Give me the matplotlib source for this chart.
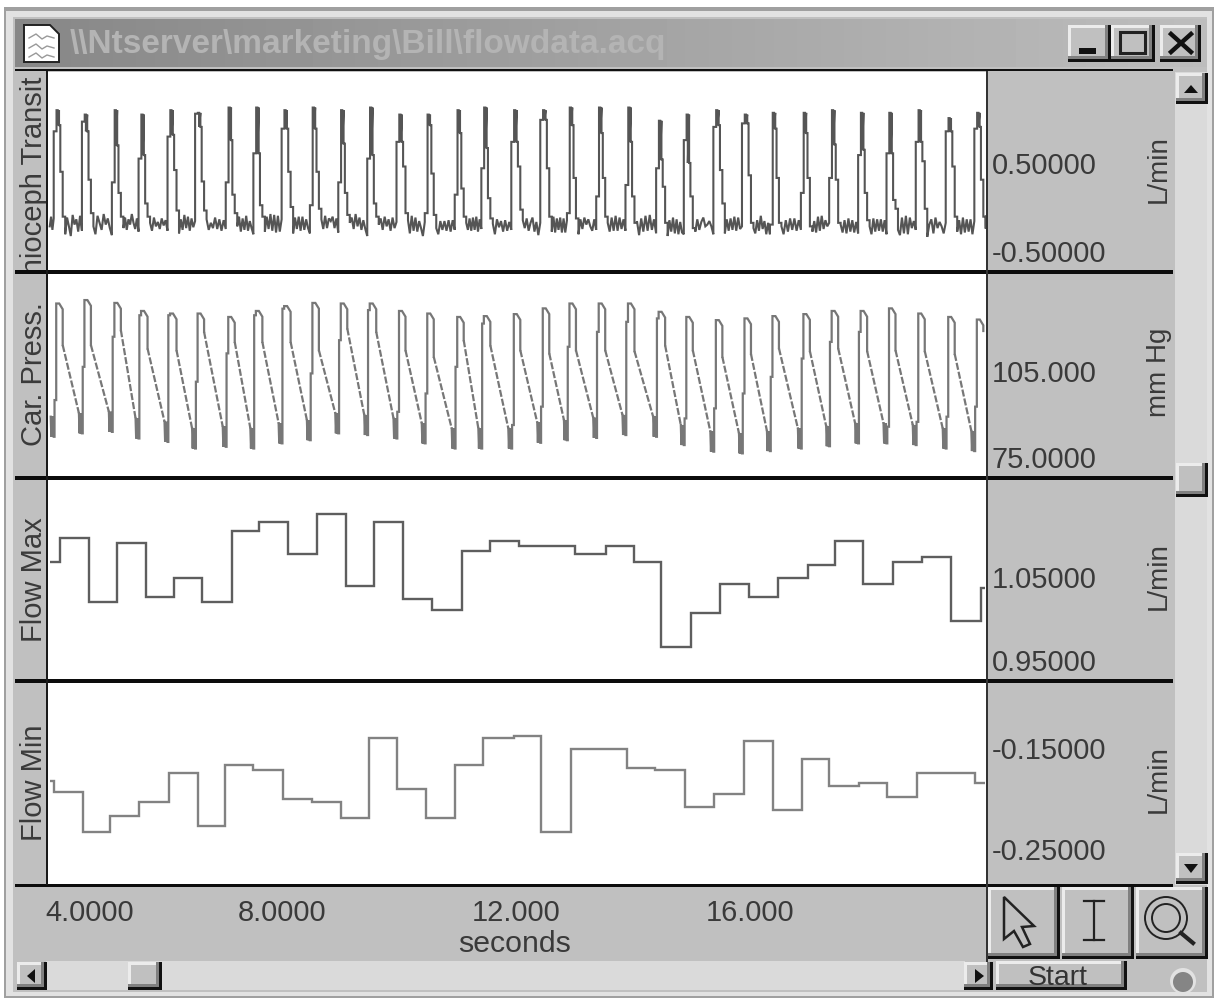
import matplotlib
matplotlib.use("Agg")
import matplotlib.pyplot as plt
import numpy as np
from matplotlib.patches import Rectangle, Polygon, Circle
from matplotlib.transforms import ScaledTranslation

plt.rcParams['font.family'] = ['Liberation Sans', 'DejaVu Sans']

# ---------------- data -----------------
title = r"\\Ntserver\marketing\Bill\flowdata.acq"
channel_names = ["Thioceph Transit", "Car. Press.", "Flow Max", "Flow Min"]
channel_units = ["L/min", "mm Hg", "L/min", "L/min"]
ticks_transit = [0.5, -0.5]
ticks_press = [105, 75]
ticks_fmax = [1.05, 0.95]
ticks_fmin = [-0.15, -0.25]
ticklabels_transit = ["0.50000", "-0.50000"]
ticklabels_press = ["105.000", "75.0000"]
ticklabels_fmax = ["1.05000", "0.95000"]
ticklabels_fmin = ["-0.15000", "-0.25000"]
time_ticks = [4, 8, 12, 16]
time_ticklabels = ["4.0000", "8.0000", "12.000", "16.000"]
time_label = "seconds"

beat_t = [4.166, 4.648, 5.160, 5.616, 6.111, 6.582, 7.106, 7.578, 8.061, 8.544, 9.029,
          9.524, 10.024, 10.507, 11.019, 11.474, 11.986, 12.481, 12.937, 13.437, 13.937,
          14.461, 14.934, 15.439, 15.928, 16.406, 16.935, 17.418, 17.913, 18.398, 18.898,
          19.410, 19.899]

# Transit-time flow, one value per beat (L/min)
tr_peak = [1.10, 1.05, 1.10, 1.05, 1.10, 1.07, 1.13, 1.13, 1.10, 1.13, 1.10, 1.13, 1.05, 1.05,
           1.10, 1.13, 1.10, 1.10, 1.13, 1.13, 1.13, 0.98, 1.05, 1.10, 1.05, 1.07, 1.07, 1.10,
           1.07, 1.07, 1.10, 1.01, 1.07]
tr_rise = [0.86, 0.97, 0.28, 0.55, 0.80, 1.06, 0.28, 0.61, 0.89, 0.02, 0.28, 0.55, 0.74, -0.07,
           0.14, 0.44, 0.74, 0.99, -0.07, 0.12, 0.25, 0.44, 0.76, 0.91, 0.95, -0.20, 0.16, 0.33,
           0.59, 0.61, 0.74, 0.86, 0.89]
tr_shoulder = [0.93, 0.86, 0.70, 0.59, 0.82, 0.91, 0.76, 0.61, 0.89, 0.89, 0.72, 0.59, 0.74, 0.93,
               0.84, 0.67, 0.74, 0.99, 0.93, 0.84, 0.74, 0.54, 0.50, 0.93, 0.95, 0.89, 0.84, 0.71,
               0.65, 0.61, 0.74, 0.86, 0.91]
tr_d1 = [0.40, 0.31, 0.16, 0.04, 0.42, 0.29, 0.14, 0.02, 0.40, 0.40, 0.16, 0.04, 0.46, 0.38, 0.21,
         0.10, 0.46, 0.44, 0.33, 0.33, 0.12, 0.23, 0.12, 0.42, 0.36, 0.33, 0.33, 0.31, 0.16, 0.08,
         0.52, 0.46, 0.31]
tr_d2 = [-0.11, -0.07, -0.11, -0.11, -0.04, -0.04, -0.07, -0.11, 0.00, -0.02, -0.09, -0.11, -0.07,
         -0.09, -0.11, -0.13, -0.03, -0.11, -0.13, -0.11, -0.18, -0.18, -0.24, 0.04, -0.18, -0.18,
         -0.22, -0.18, -0.15, -0.02, -0.02, -0.11, -0.11]
tr_floor = [
    [-0.31, -0.12, -0.22, -0.33, -0.09, -0.20, -0.14, -0.28, -0.10, -0.27],
    [-0.22, -0.31, -0.10, -0.18, -0.26, -0.08, -0.20, -0.13, -0.24, -0.32],
    [-0.24, -0.12, -0.26, -0.14, -0.20, -0.08, -0.18, -0.25, -0.13, -0.28],
    [-0.18, -0.27, -0.12, -0.22, -0.17, -0.25, -0.13, -0.21, -0.15, -0.27],
    [-0.30, -0.14, -0.26, -0.09, -0.24, -0.11, -0.27, -0.13, -0.23, -0.16],
    [-0.14, -0.26, -0.18, -0.24, -0.12, -0.25, -0.14, -0.27, -0.15, -0.25],
    [-0.22, -0.11, -0.28, -0.13, -0.26, -0.10, -0.27, -0.16, -0.24, -0.31],
    [-0.28, -0.11, -0.25, -0.08, -0.27, -0.09, -0.29, -0.10, -0.28, -0.14],
    [-0.30, -0.12, -0.25, -0.11, -0.27, -0.11, -0.26, -0.14, -0.24, -0.30],
    [-0.14, -0.25, -0.10, -0.24, -0.13, -0.16, -0.11, -0.24, -0.13, -0.29],
    [-0.18, -0.12, -0.25, -0.08, -0.22, -0.12, -0.26, -0.15, -0.25, -0.33],
    [-0.20, -0.13, -0.26, -0.11, -0.22, -0.14, -0.27, -0.12, -0.24, -0.17],
    [-0.15, -0.30, -0.10, -0.27, -0.12, -0.28, -0.16, -0.24, -0.33, -0.17],
    [-0.24, -0.31, -0.16, -0.26, -0.16, -0.27, -0.15, -0.28, -0.15, -0.26],
    [-0.18, -0.26, -0.13, -0.27, -0.12, -0.26, -0.11, -0.28, -0.14, -0.25],
    [-0.19, -0.31, -0.14, -0.23, -0.16, -0.28, -0.15, -0.27, -0.17, -0.26],
    [-0.15, -0.24, -0.13, -0.27, -0.18, -0.12, -0.28, -0.17, -0.32, -0.18],
    [-0.28, -0.11, -0.29, -0.13, -0.26, -0.12, -0.29, -0.13, -0.29, -0.15],
    [-0.31, -0.14, -0.25, -0.12, -0.20, -0.14, -0.22, -0.27, -0.14, -0.26],
    [-0.18, -0.28, -0.12, -0.27, -0.10, -0.27, -0.12, -0.25, -0.14, -0.27],
    [-0.16, -0.32, -0.13, -0.28, -0.10, -0.27, -0.09, -0.26, -0.14, -0.30],
    [-0.33, -0.15, -0.28, -0.12, -0.30, -0.14, -0.31, -0.17, -0.29, -0.31],
    [-0.28, -0.14, -0.26, -0.17, -0.12, -0.22, -0.20, -0.16, -0.22, -0.31],
    [-0.30, -0.14, -0.27, -0.13, -0.26, -0.11, -0.27, -0.12, -0.25, -0.22],
    [-0.24, -0.30, -0.15, -0.27, -0.10, -0.25, -0.16, -0.31, -0.18, -0.31],
    [-0.22, -0.31, -0.15, -0.28, -0.13, -0.26, -0.13, -0.27, -0.15, -0.26],
    [-0.28, -0.16, -0.29, -0.11, -0.27, -0.10, -0.25, -0.15, -0.22, -0.18],
    [-0.20, -0.29, -0.15, -0.30, -0.13, -0.28, -0.15, -0.29, -0.17, -0.30],
    [-0.22, -0.31, -0.13, -0.28, -0.14, -0.27, -0.14, -0.28, -0.15, -0.31],
    [-0.26, -0.32, -0.12, -0.30, -0.10, -0.31, -0.12, -0.24, -0.16, -0.26],
    [-0.34, -0.20, -0.14, -0.30, -0.12, -0.24, -0.17, -0.22, -0.30, -0.18],
    [-0.28, -0.15, -0.31, -0.12, -0.29, -0.14, -0.28, -0.14, -0.31, -0.16],
    [-0.18, -0.25, -0.10, -0.20, -0.12, -0.24, -0.15, -0.22, -0.12, -0.20],
]
tr_floor_start = [-0.22, -0.11, -0.26, -0.13]

# Carotid pressure, one value per beat (mm Hg)
cp_trough = [82.1, 83.3, 83.8, 81.5, 80.3, 78.0, 78.6, 78.0, 79.8, 80.9, 83.3, 82.7, 81.5, 79.8, 78.0,
             78.0, 78.0, 80.0, 80.9, 81.7, 82.7, 82.1, 79.2, 76.9, 76.3, 77.1, 78.0, 78.8, 79.8, 79.8,
             79.2, 78.0, 77.1]
cp_step = [94.9, 106.5, 117.0, 124.5, 124.5, 101.3, 111.2, 124.5, 126.8, 104.2, 115.8, 126.3, 90.8, 97.2,
           106.5, 121.6, 86.2, 92.6, 113.5, 118.7, 122.2, 123.4, 88.5, 92.0, 97.2, 103.0, 109.4, 115.2,
           118.7, 85.6, 87.3, 89.1, 92.6]
cp_top = [128.6, 129.8, 128.8, 126.0, 125.1, 125.1, 123.9, 126.0, 127.7, 128.8, 128.6, 128.6, 126.0, 125.1,
          123.9, 124.2, 124.9, 126.9, 128.6, 128.6, 128.6, 125.7, 123.9, 122.8, 123.4, 124.2, 124.9, 126.0,
          126.0, 126.9, 125.1, 123.9, 123.0]
cp_knee = [114.1, 114.1, 119.3, 112.9, 112.3, 118.7, 115.2, 115.2, 115.2, 112.3, 119.9, 118.7, 112.3, 110.0,
           115.8, 114.0, 112.3, 111.2, 112.3, 112.3, 112.0, 114.0, 112.3, 110.0, 111.0, 113.0, 112.0, 113.0,
           112.0, 112.3, 112.0, 111.0, 119.0]

# Beat-by-beat flow extrema (step start times in s, value held until the next)
fmax_t = [4.04, 4.205, 4.695, 5.172, 5.672, 6.155, 6.640, 7.152, 7.606, 8.101, 8.602, 9.085, 9.568, 10.063,
          10.565, 11.077, 11.548, 12.043, 13.010, 13.534, 14.022, 14.478, 14.985, 15.485, 15.980, 16.480,
          16.981, 17.447, 17.930, 18.442, 18.944, 19.439, 19.939, 20.02]
fmax_v = [1.0677, 1.0966, 1.0195, 1.0906, 1.0263, 1.0484, 1.0195, 1.1058, 1.1159, 1.0777, 1.1259, 1.0392,
          1.1159, 1.0231, 1.0102, 1.0813, 1.0934, 1.0873, 1.0777, 1.0873, 1.0685, 0.9653, 1.0070, 1.0416,
          1.0263, 1.0484, 1.0645, 1.0934, 1.0416, 1.0685, 1.0745, 0.9970, 1.0363]
fmin_t = [4.04, 4.102, 4.592, 5.063, 5.558, 6.070, 6.565, 7.020, 7.510, 8.022, 8.505, 9.012, 9.478, 9.967,
          10.468, 10.962, 11.428, 11.958, 12.425, 12.937, 13.903, 14.375, 14.887, 15.387, 15.894, 16.394,
          16.879, 17.350, 17.862, 18.346, 18.851, 19.848, 20.02]
fmin_v = [-0.1823, -0.1932, -0.2328, -0.2170, -0.2038, -0.1744, -0.2272, -0.1668, -0.1718, -0.2008, -0.2038,
          -0.2196, -0.1398, -0.1903, -0.2190, -0.1668, -0.1398, -0.1378, -0.2328, -0.1510, -0.1695, -0.1718,
          -0.2087, -0.1955, -0.1431, -0.2114, -0.1612, -0.1876, -0.1850, -0.1982, -0.1744, -0.1850]

# ---------------- figure & window chrome -----------------
W, H = 1214, 1000
fig = plt.figure(figsize=(W / 100, H / 100), dpi=100, facecolor='white')
bg = fig.add_axes([0, 0, 1, 1], zorder=0)

GREY, LIGHT, DARK, TRACK = '#c0c0c0', '#ececec', '#808080', '#dadada'


def rect(x0, y0, x1, y1, c, z=1):
    bg.add_patch(Rectangle((x0, y0), x1 - x0, y1 - y0, fc=c, ec='none', zorder=z))


def button(x0, y0, x1, y1, z=3):
    rect(x0, y0, x1, y1, '#111111', z)
    rect(x0, y0, x1 - 3, y1 - 3, DARK, z)
    rect(x0, y0, x1 - 6, y1 - 6, LIGHT, z)
    rect(x0 + 3, y0 + 3, x1 - 6, y1 - 6, GREY, z)


rect(4, 7, 1214, 998, '#a0a0a0')
rect(6, 11, 1212, 996, '#e2e2e2')
rect(13, 17, 1207, 992, GREY)
bg.imshow(np.linspace(0.53, 0.74, 256).reshape(1, -1), extent=(15, 1207, 67, 19), cmap='gray', vmin=0, vmax=1,
          aspect='auto', zorder=1.5)
rect(1175, 72, 1207, 885, TRACK)
rect(15, 69, 1173, 71, '#111111')
for y0, y1 in [(270, 274), (476, 480), (679, 683), (884, 887)]:
    rect(15, y0, 1173, y1, '#0c0c0c', 2)
rect(46, 71, 48, 885, '#1a1a1a', 2)
rect(986, 71, 988, 962, '#333333', 2)
rect(46, 961, 965, 990, TRACK)

bg.text(70, 45, title, fontsize=24, fontweight='bold', color='#b4b4b4', va='center', ha='left', zorder=4)

# document icon
bg.add_patch(Polygon([(24, 25), (50, 25), (59, 34), (59, 62), (24, 62)], fc='white', ec='#222222', lw=1.4, zorder=4))
for yy in (38, 48, 57):
    bg.plot([29, 36, 42, 47, 54], [yy, yy - 4, yy + 1, yy - 2, yy], color='#999999', lw=1, zorder=5)

# title buttons
button(1068, 25, 1111, 62)
rect(1079, 48, 1096, 54, '#111111', 5)
button(1111, 25, 1155, 62)
bg.add_patch(Rectangle((1120, 32), 25, 21, fc='none', ec='#222222', lw=2.2, zorder=5))
button(1160, 25, 1201, 62)
bg.plot([1171, 1191], [34, 52], color='#111111', lw=3.2, zorder=5)
bg.plot([1191, 1171], [34, 52], color='#111111', lw=3.2, zorder=5)

# vertical scroll bar
button(1176, 73, 1208, 104)
bg.add_patch(Polygon([(1184, 93), (1198, 93), (1191, 85)], fc='#111111', ec='none', zorder=5))
button(1176, 463, 1208, 497)
button(1176, 853, 1208, 884)
bg.add_patch(Polygon([(1184, 864), (1198, 864), (1191, 873)], fc='#111111', ec='none', zorder=5))

# tool buttons
button(988, 887, 1060, 959)
button(1062, 887, 1134, 959)
button(1136, 887, 1208, 959)
bg.add_patch(Polygon([(1004, 897), (1034, 926), (1022, 927), (1030, 944), (1023, 947), (1014, 931), (1004, 939)],
                     fc=GREY, ec='#222222', lw=1.8, zorder=5))
bg.plot([1084, 1104], [901, 901], color='#222222', lw=1.6, zorder=5)
bg.plot([1084, 1104], [940, 940], color='#222222', lw=1.6, zorder=5)
bg.plot([1094, 1094], [901, 940], color='#222222', lw=1.6, zorder=5)
bg.add_patch(Circle((1166, 918), 21, fc='none', ec='#222222', lw=1.4, zorder=5))
bg.add_patch(Circle((1166, 918), 14, fc='none', ec='#222222', lw=1.4, zorder=5))
bg.plot([1181, 1193], [933, 943], color='#222222', lw=3, zorder=5)

# horizontal scroll bar
button(17, 962, 47, 990)
bg.add_patch(Polygon([(35, 969), (35, 983), (27, 976)], fc='#111111', ec='none', zorder=5))
button(128, 962, 162, 990)
button(964, 962, 993, 990)
bg.add_patch(Polygon([(975, 969), (975, 983), (984, 976)], fc='#111111', ec='none', zorder=5))
button(996, 961, 1127, 990)
bg.text(1058, 978, "Start", fontsize=20.5, color='#333333', ha='center', va='center', zorder=6)
bg.add_patch(Circle((1183, 981), 13, fc='#e2e2e2', ec='none', zorder=4))
bg.add_patch(Circle((1183, 982), 10, fc='#858585', ec='none', zorder=4))

bg.set_xlim(0, W)
bg.set_ylim(H, 0)
bg.axis('off')

# ---------------- data panels -----------------
panels = [(72, 270, (-0.716, 1.534)), (274, 476, (68.4, 138.9)), (480, 679, (0.9271, 1.1669)), (683, 884, (-0.2847, -0.0856))]
XL = (4.0, 20.03)
axes = []
tick_sets = [(ticks_transit, ticklabels_transit), (ticks_press, ticklabels_press),
             (ticks_fmax, ticklabels_fmax), (ticks_fmin, ticklabels_fmin)]
label_y = [169, 372, 576, 779]
name_y = [184, 374, 580, 783]
for i, (top, bot, yl) in enumerate(panels):
    ax = fig.add_axes([48 / W, 1 - bot / H, 938 / W, (bot - top) / H], zorder=2)
    ax.set_xlim(*XL)
    ax.set_ylim(*yl)
    ax.set_facecolor('white')
    for s in ax.spines.values():
        s.set_visible(False)
    ax.yaxis.tick_right()
    ax.set_yticks(tick_sets[i][0], tick_sets[i][1])
    ax.tick_params(axis='y', length=0, pad=4, labelsize=20.9, labelcolor='#3a3a3a')
    ax.set_xticks([])
    ax.yaxis.set_label_position('right')
    ax.set_ylabel(channel_units[i], fontsize=20, color='#3a3a3a', rotation=90, va='center')
    ax.yaxis.set_label_coords((1159 - 48) / 938, (bot - label_y[i]) / (bot - top))
    t = ax.text(-14 / 938, (bot - name_y[i]) / (bot - top), channel_names[i], transform=ax.transAxes, rotation=90,
                fontsize=21, color='#3a3a3a', ha='center', va='center')
    t.set_clip_path(Rectangle((15, H - bot), 31, bot - top, transform=None))
    t.set_clip_on(True)
    axes.append(ax)

d = 1 / 58.6   # one screen pixel in seconds

# transit-time trace
tx = list(np.linspace(4.03, beat_t[0] - 4 * d, len(tr_floor_start)))
ty = list(tr_floor_start)
for i, t in enumerate(beat_t):
    tx += [t - 4 * d, t - 4 * d, t - 1.2 * d, t - 1.2 * d, t, t, t + 1.3 * d, t + 1.3 * d, t + 2.6 * d, t + 2.6 * d,
           t + 5 * d, t + 5 * d, t + 7.5 * d, t + 7.5 * d]
    ty += [ty[-1], tr_rise[i], tr_rise[i], tr_peak[i], tr_peak[i], tr_shoulder[i], tr_peak[i], tr_shoulder[i],
           tr_shoulder[i], tr_d1[i], tr_d1[i], tr_d2[i], tr_d2[i], tr_floor[i][0]]
    end = beat_t[i + 1] - 4 * d if i + 1 < len(beat_t) else 20.03
    tx += list(np.linspace(t + 7.5 * d, end, len(tr_floor[i])))
    ty += list(tr_floor[i])
axes[0].plot(tx, ty, color='#555555', lw=1.5, solid_joinstyle='miter')

# carotid pressure trace
for i, t in enumerate(beat_t):
    T = cp_trough[i]
    bar = [T + 7, T, T + 7, T, T + 7, T]
    bx = [t - 7 * d, t - 6.4 * d, t - 5.8 * d, t - 5.2 * d, t - 4.6 * d, t - 4 * d]
    sx = bx + [t - 3.2 * d, t - 3.2 * d, t - 1.5 * d, t - 1.5 * d, t + 1.5 * d, t + 5 * d, t + 5 * d]
    sy = bar + [T, cp_step[i], cp_step[i], cp_top[i], cp_top[i], cp_top[i] - 2.0, cp_knee[i]]
    axes[1].plot(sx, sy, color='#777777', lw=1.6, solid_joinstyle='miter')
    if i + 1 < len(beat_t):
        axes[1].plot([t + 5 * d, beat_t[i + 1] - 7 * d], [cp_knee[i], cp_trough[i + 1] + 7],
                     color='#777777', lw=1.6, ls=(0, (3.2, 0.9)))

# flow extrema
axes[2].stairs(fmax_v, fmax_t, baseline=None, color='#5e5e5e', lw=1.7)
axes[3].stairs(fmin_v, fmin_t, baseline=None, color='#828282', lw=1.7)

# time axis on the bottom panel
ax = axes[3]
ax.set_xticks(time_ticks, time_ticklabels)
ax.tick_params(axis='x', length=0, pad=10.5, labelsize=20.9, labelcolor='#3a3a3a')
first = ax.get_xticklabels()[0]
first.set_ha('left')
first.set_transform(first.get_transform() + ScaledTranslation(-3 / 100, 0, fig.dpi_scale_trans))
ax.set_xlabel(time_label, fontsize=21.8, color='#3a3a3a', va='center')
ax.xaxis.set_label_coords((515 - 48) / 938, -(944 - 884) / 201)

fig.savefig('out.png', dpi=100)
